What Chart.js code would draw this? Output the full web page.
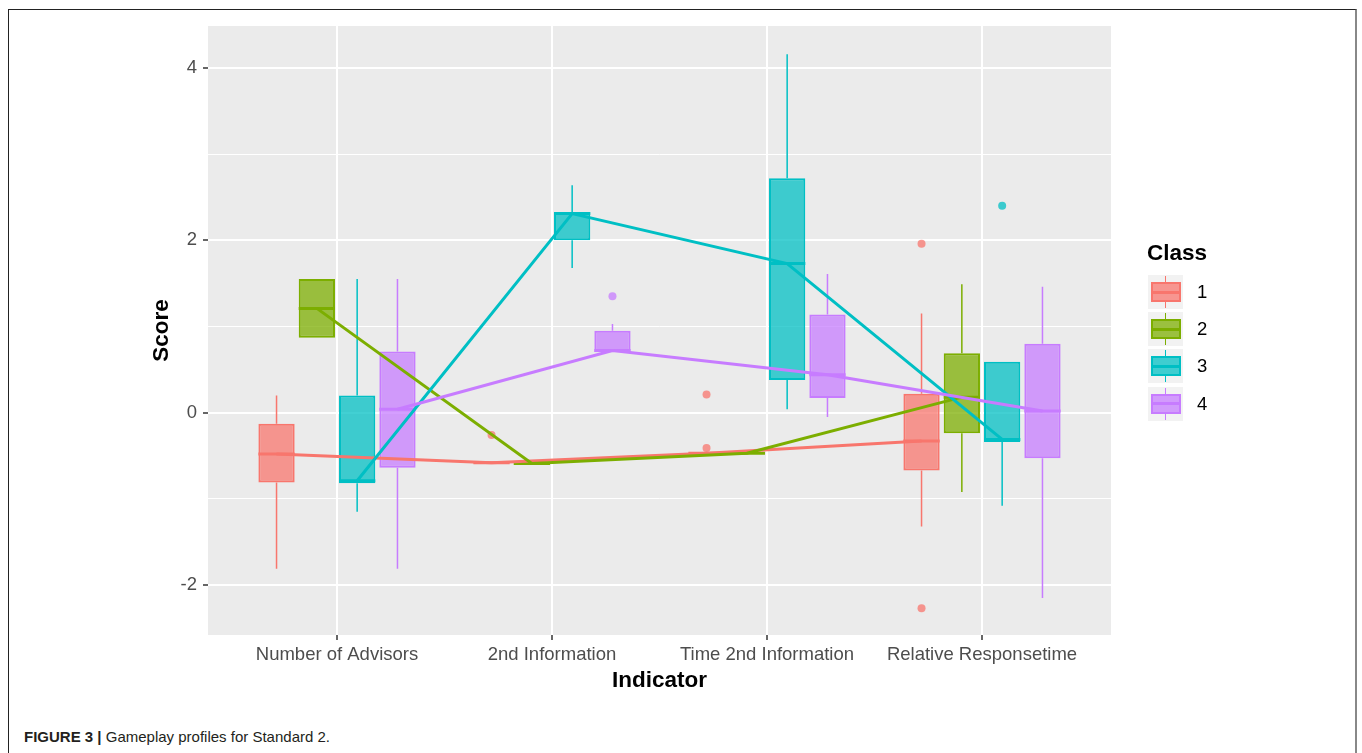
<!DOCTYPE html>
<html>
<head>
<meta charset="utf-8">
<script src="https://cdn.jsdelivr.net/npm/chart.js@4.4.1/dist/chart.umd.min.js"></script>
<style>
  html, body { margin: 0; padding: 0; background: #fff; }
  body { width: 1362px; height: 753px; position: relative; overflow: hidden; font-family: 'Liberation Sans', Arial, sans-serif; }
  #frame { position: absolute; left: 8px; top: 9px; width: 1346px; height: 760px; border-top: 1px solid #222; border-left: 1px solid #222; border-right: 2px solid #888; }
  #chart { position: absolute; left: 0; top: 0; }
  #legend { position: absolute; left: 1147px; top: 239px; }
  #legend .title { font-weight: bold; font-size: 22.5px; line-height: 27px; color: #000; margin-bottom: 9px; }
  #legend .row { display: flex; align-items: center; height: 34px; margin-bottom: 3.2px; }
  #legend .key { position: relative; width: 35px; height: 34px; background: #F2F2F2; margin-left: 1px; }
  #legend .box { position: absolute; left: 3px; top: 7px; width: 26px; height: 16px; border: 2px solid; }
  #legend .med { position: absolute; left: 0; right: 0; top: 6.5px; height: 3px; }
  #legend .wh { position: absolute; left: 16.5px; width: 1.5px; height: 6px; }
  #legend .lab { font-size: 18.5px; color: #000; margin-left: 14px; }
  #caption { position: absolute; left: 24px; top: 728px; font-size: 15px; color: #231F20; }
</style>
</head>
<body>
<div id="frame"></div>
<canvas id="chart" width="1362" height="700"></canvas>
<div id="legend"><div class="title">Class</div></div>
<div id="caption"><b>FIGURE 3 |</b> Gameplay profiles for Standard 2.</div>
<script>
const indicators = ['Number of Advisors', '2nd Information', 'Time 2nd Information', 'Relative Responsetime']
const classNames = ['1', '2', '3', '4']
const colors = ['#F8766D', '#7CAE00', '#00BFC4', '#C77CFF']

// rows = class 1..4, columns = indicators
const whiskerLow = [
  [-1.81, -0.58, -0.47, -1.32],
  [0.87, -0.59, -0.47, -0.92],
  [-1.15, 1.68, 0.04, -1.08],
  [-1.81, 0.70, -0.05, -2.15]
]
const lowerQuartile = [
  [-0.81, -0.58, -0.47, -0.67],
  [0.87, -0.59, -0.47, -0.24],
  [-0.82, 2.00, 0.38, -0.34],
  [-0.64, 0.70, 0.17, -0.53]
]
const medians = [
  [-0.48, -0.58, -0.47, -0.33],
  [1.21, -0.59, -0.47, 0.18],
  [-0.79, 2.31, 1.73, -0.31],
  [0.04, 0.72, 0.44, 0.02]
]
const upperQuartile = [
  [-0.13, -0.58, -0.47, 0.22],
  [1.55, -0.59, -0.47, 0.69],
  [0.20, 2.33, 2.72, 0.59],
  [0.71, 0.95, 1.14, 0.80]
]
const whiskerHigh = [
  [0.20, -0.58, -0.47, 1.15],
  [1.55, -0.59, -0.47, 1.49],
  [1.55, 2.64, 4.16, 0.59],
  [1.55, 1.03, 1.61, 1.46]
]
// outliers per class: [indicator index, score]
const outliers = [
  [[1, -0.26], [2, 0.21], [2, -0.41], [3, 1.96], [3, -2.27]],
  [],
  [[3, 2.40]],
  [[1, 1.35]]
]
const yTicks = [-2, -1, 0, 1, 2, 3, 4]

// ggplot dodge: 0.75 wide, boxes take 90% of their slot
const dodgeWidth = 0.75
const slot = dodgeWidth / classNames.length
const halfBox = slot * 0.9 / 2
const pos = (c, i) => i + 1 + (c - (classNames.length - 1) / 2) * slot

function fade (hex, a) {
  const n = parseInt(hex.slice(1), 16)
  return `rgba(${n >> 16}, ${(n >> 8) & 255}, ${n & 255}, ${a})`
}

const datasets = []
classNames.forEach((name, c) => {
  const col = colors[c]
  // connecting lines between medians, on top
  datasets.push({
    type: 'line',
    order: 3 - c,
    data: indicators.map((_, i) => ({ x: pos(c, i), y: medians[c][i] })),
    borderColor: col,
    borderWidth: 3,
    pointRadius: 0,
    fill: false
  })
  // median bars of the boxes
  const med = []
  indicators.forEach((_, i) => {
    med.push({ x: pos(c, i) - halfBox, y: medians[c][i] })
    med.push({ x: pos(c, i) + halfBox, y: medians[c][i] })
    med.push({ x: pos(c, i) + halfBox, y: null })
  })
  datasets.push({
    type: 'line',
    order: 10 + 3 - c,
    data: med,
    borderColor: col,
    borderWidth: 3,
    pointRadius: 0,
    spanGaps: false,
    fill: false
  })
  // boxes
  datasets.push({
    type: 'bar',
    order: 20 + 3 - c,
    data: indicators.map((_, i) => ({ x: pos(c, i), y: [lowerQuartile[c][i], upperQuartile[c][i]] })),
    backgroundColor: fade(col, 0.74),
    borderColor: col,
    borderWidth: 2,
    borderSkipped: false,
    grouped: false,
    categoryPercentage: 1,
    barPercentage: 0.9
  })
  // whiskers
  const wh = []
  indicators.forEach((_, i) => {
    const x = pos(c, i)
    wh.push({ x, y: whiskerLow[c][i] }, { x, y: lowerQuartile[c][i] }, { x, y: null })
    wh.push({ x, y: upperQuartile[c][i] }, { x, y: whiskerHigh[c][i] }, { x, y: null })
  })
  datasets.push({
    type: 'line',
    order: 30 + 3 - c,
    data: wh,
    borderColor: col,
    borderWidth: 1.5,
    pointRadius: 0,
    spanGaps: false,
    fill: false
  })
  // outliers
  datasets.push({
    type: 'scatter',
    order: 40 + 3 - c,
    data: outliers[c].map(([i, v]) => ({ x: pos(c, i), y: v })),
    pointRadius: 4,
    pointBorderWidth: 0,
    pointBackgroundColor: fade(col, 0.75),
    showLine: false
  })
})

const panelBackground = {
  id: 'panelBackground',
  beforeDraw (chart) {
    const { ctx, chartArea: a } = chart
    ctx.save()
    ctx.fillStyle = '#EBEBEB'
    ctx.fillRect(a.left, a.top, a.right - a.left, a.bottom - a.top)
    ctx.restore()
  }
}

const fontFamily = "'Liberation Sans', Arial, sans-serif"

new Chart(document.getElementById('chart'), {
  data: { datasets },
  options: {
    responsive: false,
    animation: false,
    devicePixelRatio: 1,
    layout: { padding: { top: 26, right: 251, left: 0, bottom: 0 } },
    plugins: { legend: { display: false }, tooltip: { enabled: false } },
    scales: {
      x: {
        type: 'linear',
        min: 0.4,
        max: 4.6,
        offset: false,
        afterBuildTicks: scale => { scale.ticks = indicators.map((_, i) => ({ value: i + 1 })) },
        afterFit: scale => { scale.height = 65 },
        ticks: {
          autoSkip: false,
          maxRotation: 0,
          padding: 4,
          color: '#4D4D4D',
          font: { family: fontFamily, size: 18.5 },
          callback: v => indicators[v - 1]
        },
        grid: { color: '#FFFFFF', lineWidth: 2, offset: false, tickColor: '#333333', tickLength: 5, tickWidth: 1.5 },
        border: { display: false },
        title: { display: true, text: 'Indicator', color: '#000', font: { family: fontFamily, size: 22.5, weight: 'bold' }, padding: { top: 0, bottom: 6 } }
      },
      y: {
        type: 'linear',
        min: -2.58,
        max: 4.487,
        afterBuildTicks: scale => { scale.ticks = yTicks.map(v => ({ value: v })) },
        afterFit: scale => { scale.width = 208 },
        ticks: {
          padding: 6,
          color: '#4D4D4D',
          font: { family: fontFamily, size: 18.5 },
          callback: v => (v % 2 === 0 ? String(v) : '')
        },
        grid: {
          color: '#FFFFFF',
          lineWidth: ctx => (ctx.tick && ctx.tick.value % 2 === 0 ? 2 : 1),
          tickColor: ctx => (ctx.tick && ctx.tick.value % 2 === 0 ? '#333333' : 'rgba(0,0,0,0)'),
          tickLength: 5,
          tickWidth: 1.5
        },
        border: { display: false },
        title: { display: true, text: 'Score', color: '#000', font: { family: fontFamily, size: 22.5, weight: 'bold' }, padding: { top: 148, bottom: 0 } }
      }
    }
  },
  plugins: [panelBackground]
})

// legend with boxplot keys
const legend = document.getElementById('legend')
classNames.forEach((name, c) => {
  const row = document.createElement('div')
  row.className = 'row'
  row.innerHTML = `<div class="key">
      <div class="wh" style="top:1px;background:${colors[c]}"></div>
      <div class="wh" style="top:27px;background:${colors[c]}"></div>
      <div class="box" style="border-color:${colors[c]};background:${fade(colors[c], 0.74)}">
        <div class="med" style="background:${colors[c]}"></div>
      </div>
    </div><span class="lab">${name}</span>`
  legend.appendChild(row)
})
</script>
</body>
</html>
